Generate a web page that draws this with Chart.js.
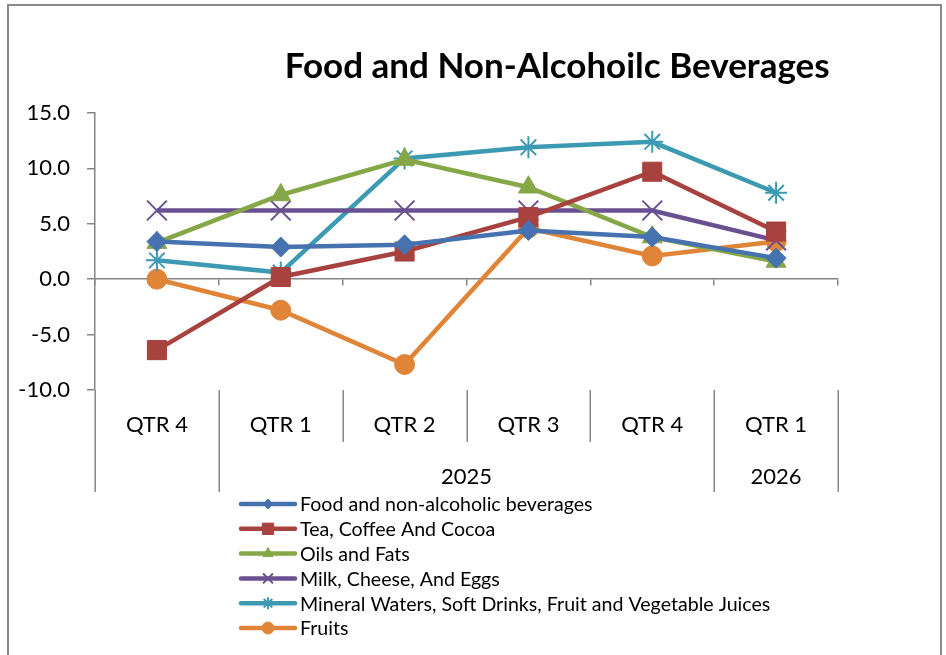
<!DOCTYPE html>
<html>
<head>
<meta charset="utf-8">
<script src="https://cdn.jsdelivr.net/npm/chart.js"></script>
<style>
    body { margin: 0; background: #ffffff; }
    #wrap { position: relative; width: 946px; height: 655px; overflow: hidden; }
    #frame { position: absolute; left: 7px; top: 4px; width: 931px; height: 700px;
             border: 2px solid #8a8a8a; pointer-events: none; }
</style>
</head>
<body>
<div id="wrap">
    <canvas id="chart"></canvas>
    <div id="frame"></div>
</div>
<script>
// chart values
var chartTitle = "Food and Non-Alcohoilc Beverages";
var categories = ["QTR 4", "QTR 1", "QTR 2", "QTR 3", "QTR 4", "QTR 1"];
var yearLabels = ["", "2025", "2026"];
var yearFirst = [0, 1, 5];   // first category index of each year group
var yearLast = [0, 4, 5];    // last category index of each year group
var yTicks = [-10, -5, 0, 5, 10, 15];

var foodValues = [3.4, 2.9, 3.1, 4.4, 3.8, 1.9];
var teaValues = [-6.4, 0.2, 2.5, 5.6, 9.7, 4.3];
var oilsValues = [3.3, 7.6, 10.8, 8.3, 3.8, 1.6];
var milkValues = [6.2, 6.2, 6.2, 6.2, 6.2, 3.5];
var mineralValues = [1.7, 0.6, 10.9, 11.9, 12.4, 7.8];
var fruitsValues = [0.0, -2.8, -7.7, 4.6, 2.1, 3.4];

var seriesNames = [
    "Food and non-alcoholic beverages",
    "Tea, Coffee And Cocoa",
    "Oils and Fats",
    "Milk, Cheese, And Eggs",
    "Mineral Waters, Soft Drinks, Fruit and Vegetable Juices",
    "Fruits"
];

var FONT = "Lato, 'Open Sans', sans-serif";
var AXIS_GREY = "#868686";

function makeSet(i, values, color, style, radius, border, legendRadius) {
    return {
        label: seriesNames[i],
        data: values,
        borderColor: color,
        backgroundColor: color,
        borderWidth: 4.5,
        tension: 0,
        pointStyle: style,
        pointRadius: radius,
        pointBorderWidth: border,
        pointBackgroundColor: color,
        pointBorderColor: color,
        legendRadius: legendRadius
    };
}

var datasets = [
    makeSet(0, foodValues, "#4673AF", "rectRot", 10, 1, 5),
    makeSet(1, teaValues, "#A8423F", "rect", 13.5, 1, 8),
    makeSet(2, oilsValues, "#86A748", "triangle", 11.5, 1, 6),
    makeSet(3, milkValues, "#695091", "crossRot", 14, 2, 7),
    makeSet(4, mineralValues, "#3C9AB2", "star", 11, 2, 6),
    makeSet(5, fruitsValues, "#E08438", "circle", 10, 1, 6)
];

// title, category separators, year row and legend
var decorPlugin = {
    id: "decor",
    afterDraw: function(chart) {
        var ctx = chart.ctx;
        var area = chart.chartArea;
        var xs = chart.scales.x;
        var step = xs.getPixelForValue(1) - xs.getPixelForValue(0);

        ctx.save();

        // title
        ctx.fillStyle = "#000000";
        ctx.font = "bold 35px " + FONT;
        ctx.textAlign = "center";
        ctx.textBaseline = "middle";
        ctx.fillText(chartTitle, chart.width * 0.589, 67);

        // separators under the plot
        var rowBottom = area.bottom + 52;
        var groupBottom = area.bottom + 102;
        var edges = {};
        for (var g = 0; g < yearFirst.length; g++) {
            edges[yearFirst[g]] = true;
            edges[yearLast[g] + 1] = true;
        }
        ctx.strokeStyle = AXIS_GREY;
        ctx.lineWidth = 1.5;
        for (var b = 0; b <= categories.length; b++) {
            var bx = Math.round(xs.getPixelForValue(b) - step / 2) + 0.25;
            ctx.beginPath();
            ctx.moveTo(bx, area.bottom);
            ctx.lineTo(bx, edges[b] ? groupBottom : rowBottom);
            ctx.stroke();
        }

        // year labels
        ctx.font = "22px " + FONT;
        ctx.fillStyle = "#000000";
        for (var k = 0; k < yearLabels.length; k++) {
            var cx = (xs.getPixelForValue(yearFirst[k]) + xs.getPixelForValue(yearLast[k])) / 2;
            ctx.fillText(yearLabels[k], cx, area.bottom + 87);
        }

        // legend
        var lx = 241, ly = 504, rowH = 24.8;
        ctx.textAlign = "left";
        ctx.font = "19.6px " + FONT;
        chart.data.datasets.forEach(function(ds, i) {
            var y = ly + i * rowH;
            ctx.strokeStyle = ds.borderColor;
            ctx.lineWidth = 4.5;
            ctx.lineCap = "round";
            ctx.beginPath();
            ctx.moveTo(lx, y);
            ctx.lineTo(lx + 54, y);
            ctx.stroke();
            ctx.lineCap = "butt";
            ctx.fillStyle = ds.borderColor;
            ctx.lineWidth = ds.pointBorderWidth;
            Chart.helpers.drawPoint(ctx, {
                pointStyle: ds.pointStyle,
                radius: ds.legendRadius,
                rotation: 0,
                borderWidth: ds.pointBorderWidth
            }, lx + 27, y);
            ctx.fillStyle = "#000000";
            ctx.fillText(ds.label, lx + 59, y + 1);
        });

        ctx.restore();
    }
};

var chart = new Chart(document.getElementById("chart"), {
    type: "line",
    data: {
        labels: categories,
        datasets: datasets
    },
    options: {
        responsive: true,
        maintainAspectRatio: false,
        animation: false,
        layout: {
            padding: { top: 113, right: 108, bottom: 163, left: 0 }
        },
        plugins: {
            legend: { display: false },
            title: { display: false },
            tooltip: { enabled: false }
        },
        scales: {
            x: {
                type: "category",
                offset: true,
                border: { display: false },
                grid: { display: false },
                ticks: {
                    color: "#000000",
                    font: { family: FONT, size: 22 },
                    padding: 14,
                    maxRotation: 0
                },
                afterFit: function(scale) { scale.height = 102; }
            },
            xzero: {
                type: "category",
                position: { y: 0 },
                offset: true,
                border: { display: true, color: AXIS_GREY, width: 1.5 },
                grid: {
                    offset: true,
                    drawOnChartArea: false,
                    drawTicks: true,
                    tickLength: 6,
                    color: AXIS_GREY,
                    lineWidth: 1.5
                },
                ticks: { display: false }
            },
            y: {
                min: yTicks[0],
                max: yTicks[yTicks.length - 1],
                border: { display: true, color: AXIS_GREY, width: 1.5 },
                grid: {
                    drawOnChartArea: false,
                    drawTicks: true,
                    tickLength: 8,
                    color: AXIS_GREY,
                    lineWidth: 1.5
                },
                afterBuildTicks: function(scale) {
                    scale.ticks = yTicks.map(function(v) { return { value: v }; });
                },
                ticks: {
                    color: "#000000",
                    font: { family: FONT, size: 22 },
                    padding: 17,
                    callback: function(value) { return Number(value).toFixed(1); }
                },
                afterFit: function(scale) { scale.width = 95; }
            }
        }
    },
    plugins: [decorPlugin]
});
</script>
</body>
</html>
